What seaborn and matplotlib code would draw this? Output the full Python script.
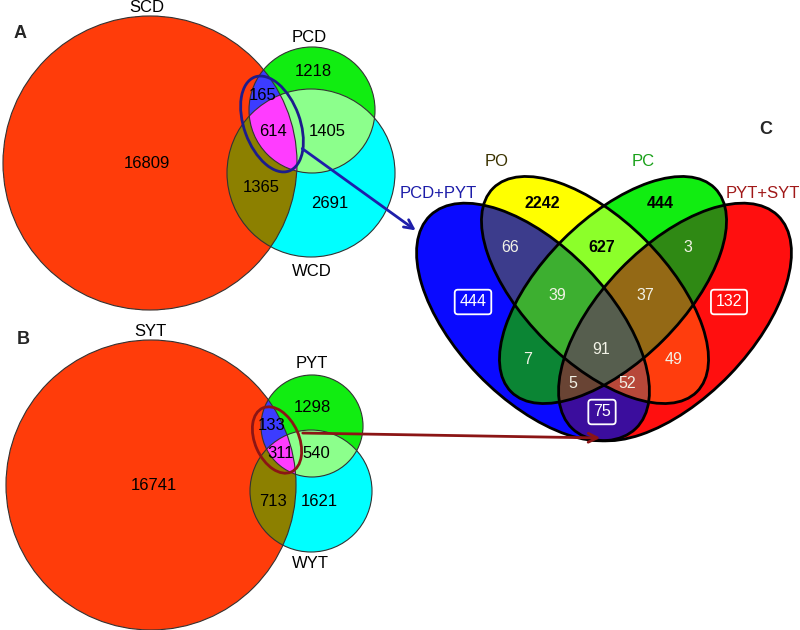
import numpy as np
import matplotlib
matplotlib.use("Agg")
import matplotlib.pyplot as plt
from matplotlib.patches import Circle, Ellipse
import seaborn as sns

# ============================================================
# DATOS: conteos por region de cada diagrama de Venn
# ============================================================

# Panel A (A=SCD, B=PCD, C=WCD)
sets_a = ["SCD", "PCD", "WCD"]
regions_a = ["A", "B", "C", "AB", "AC", "BC", "ABC"]
counts_a = [16809, 1218, 2691, 165, 1365, 1405, 614]

# Panel B (A=SYT, B=PYT, C=WYT)
sets_b = ["SYT", "PYT", "WYT"]
regions_b = ["A", "B", "C", "AB", "AC", "BC", "ABC"]
counts_b = [16741, 1298, 1621, 133, 713, 540, 311]

# Panel C (A=PCD+PYT, B=PO, C=PC, D=PYT+SYT)
sets_c = ["PCD+PYT", "PO", "PC", "PYT+SYT"]
regions_c = ["A", "B", "C", "D", "AB", "BC", "CD", "AC", "BD", "AD",
             "ABC", "BCD", "ACD", "ABD", "ABCD"]
counts_c = [444, 2242, 444, 132, 66, 627, 3, 7, 49, 75, 39, 37, 5, 52, 91]

# ============================================================
# ESTILO Y GEOMETRIA
# ============================================================

sns.set_theme(style="white")
plt.rcParams["font.family"] = ["Liberation Sans", "DejaVu Sans"]

colores_3 = {"A": "#FF3C0A", "B": "#11EE11", "C": "#00FFFF", "AB": "#3C3CFF",
             "AC": "#8C8000", "BC": "#8CFF8C", "ABC": "#FF3CFF"}
colores_4 = {"A": "#0A0AFF", "B": "#FFFF00", "C": "#11EE11", "D": "#FF0F0F",
             "AB": "#3C3C8C", "BC": "#8CFF2A", "CD": "#2F8A14", "AC": "#0B8535",
             "BD": "#FF3D0D", "AD": "#3B0D9E", "ABC": "#3DAF30", "BCD": "#956A15",
             "ACD": "#6A4535", "ABD": "#B7483A", "ABCD": "#565E4E"}

# circulos (cx, cy, r) en pixeles, y hacia abajo
circ_a = [(150, 163, 147), (312, 110, 63), (311, 173, 84)]
circ_b = [(151, 485, 145), (312, 426, 51), (311, 491, 61)]
# elipses (cx, cy, semieje mayor, semieje menor, angulo)
elip_c = [(533, 322, 148, 76, 46), (595, 290, 144, 71, 45),
          (613, 290, 144, 71, 135), (675, 322, 148, 76, 134)]

pos_a = [(147, 163), (313, 72), (330, 203), (263, 95), (261, 187), (327, 132), (273, 132)]
pos_b = [(154, 485), (312, 407), (319, 502), (272, 426), (273, 502), (316, 454), (281, 454)]
pos_c = [(473, 302), (542, 204), (660, 204), (729, 302), (510, 247), (602, 247),
         (688, 247), (528, 359), (674, 360), (602, 412), (557, 295), (645, 295),
         (573, 383), (627, 383), (601, 349)]
negrita_c = ["B", "C", "BC"]
caja_c = ["A", "D", "AD"]

# ============================================================
# RELLENO DE REGIONES (mascara de pertenencia)
# ============================================================

W, H = 1600, 1260
xs = (np.arange(W) + 0.5) * 800 / W
ys = (np.arange(H) + 0.5) * 630 / H
X, Y = np.meshgrid(xs, ys)


def en_circulo(c):
    cx, cy, r = c
    return (X - cx) ** 2 + (Y - cy) ** 2 <= r ** 2


def en_elipse(e):
    cx, cy, a, b, ang = e
    t = np.deg2rad(ang)
    dx, dy = X - cx, Y - cy
    u = dx * np.cos(t) + dy * np.sin(t)
    v = -dx * np.sin(t) + dy * np.cos(t)
    return (u / a) ** 2 + (v / b) ** 2 <= 1


img = np.ones((H, W, 3))


def pintar(mascaras, colores):
    letras = "ABCD"[:len(mascaras)]
    for code, col in colores.items():
        m = np.ones_like(X, dtype=bool)
        for i, l in enumerate(letras):
            m &= mascaras[i] if l in code else ~mascaras[i]
        img[m] = matplotlib.colors.to_rgb(col)


pintar([en_circulo(c) for c in circ_a], colores_3)
pintar([en_circulo(c) for c in circ_b], colores_3)
pintar([en_elipse(e) for e in elip_c], colores_4)

fig = plt.figure(figsize=(8, 6.3), dpi=100)
ax = fig.add_axes([0, 0, 1, 1])
ax.imshow(img, extent=(0, 800, 630, 0), origin="upper", interpolation="antialiased")
ax.set_xlim(0, 800)
ax.set_ylim(630, 0)
ax.axis("off")

# contornos
for c in circ_a + circ_b:
    ax.add_patch(Circle((c[0], c[1]), c[2], fill=False, ec="#333333", lw=0.8))
for e in elip_c:
    ax.add_patch(Ellipse((e[0], e[1]), 2 * e[2], 2 * e[3], angle=e[4],
                         fill=False, ec="black", lw=2.0))

# elipses de seleccion y flechas
ax.add_patch(Ellipse((272, 124), 100, 56, angle=70, fill=False, ec="#1C1C8C", lw=2.0))
ax.add_patch(Ellipse((277, 440), 70, 44, angle=66, fill=False, ec="#8B1515", lw=2.0))
ax.annotate("", xy=(418, 232), xytext=(300, 147),
            arrowprops=dict(arrowstyle="->", color="#1E1EAA", lw=2, mutation_scale=16))
ax.annotate("", xy=(603, 438), xytext=(300, 433),
            arrowprops=dict(arrowstyle="->", color="#8B1515", lw=2, mutation_scale=16))

# textos de conteos
for (x, y), n in zip(pos_a, counts_a):
    ax.text(x, y, str(n), ha="center", va="center", fontsize=12, color="black")
for (x, y), n in zip(pos_b, counts_b):
    ax.text(x, y, str(n), ha="center", va="center", fontsize=12, color="black")
for (x, y), n, code in zip(pos_c, counts_c, regions_c):
    if code in negrita_c:
        ax.text(x, y, str(n), ha="center", va="center", fontsize=11.5,
                color="black", fontweight="bold")
    elif code in caja_c:
        ax.text(x, y, str(n), ha="center", va="center", fontsize=11.5, color="white",
                bbox=dict(boxstyle="round,pad=0.3,rounding_size=0.2", fc="none",
                          ec="white", lw=1.3))
    else:
        ax.text(x, y, str(n), ha="center", va="center", fontsize=11.5, color="#F2F2E6")

# nombres de conjuntos
nombres_ab = [("SCD", 147, 8), ("PCD", 309, 38), ("WCD", 312, 272),
              ("SYT", 150, 332), ("PYT", 312, 363), ("WYT", 310, 563)]
for t, x, y in nombres_ab:
    ax.text(x, y, t, ha="center", va="center", fontsize=12, color="black")

colores_nombres_c = ["#1C1CA8", "#3A3200", "#18A018", "#A01818"]
pos_nombres_c = [(438, 193), (497, 161), (643, 161), (763, 193)]
for t, (x, y), col in zip(sets_c, pos_nombres_c, colores_nombres_c):
    ax.text(x, y, t, ha="center", va="center", fontsize=12, color=col)

for t, x, y in [("A", 20, 33), ("B", 23, 340), ("C", 766, 130)]:
    ax.text(x, y, t, ha="center", va="center", fontsize=13, fontweight="bold")

plt.savefig("out.png", dpi=100)
plt.close()
